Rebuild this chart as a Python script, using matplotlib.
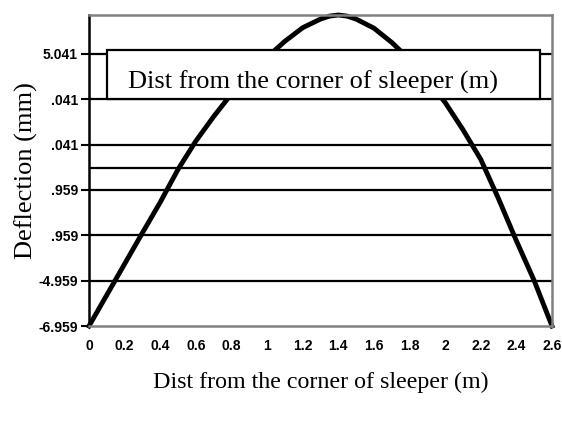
import numpy as np
import matplotlib.pyplot as plt
from matplotlib.patches import Rectangle

# deflection along the sleeper
dist = [0.0, 0.1, 0.2, 0.3, 0.4, 0.5, 0.6, 0.7, 0.8, 0.9, 1.0, 1.1, 1.2, 1.3,
        1.35, 1.4, 1.45, 1.5, 1.6, 1.7, 1.8, 1.9, 2.0, 2.1, 2.2, 2.3, 2.4, 2.5, 2.6]
deflection = [-6.959, -5.59, -4.22, -2.85, -1.50, -0.05, 1.20, 2.28, 3.28, 4.15,
              4.90, 5.60, 6.20, 6.58, 6.71, 6.76, 6.71, 6.58, 6.18, 5.55, 4.80, 3.90,
              2.90, 1.70, 0.39, -1.35, -3.20, -4.96, -6.959]

y_ticks = [-6.959, -4.959, -2.959, -0.959, 1.041, 3.041, 5.041]
y_labels = ['-6.959', '-4.959', '.959', '.959', '.041', '.041', '5.041']
x_ticks = [0, 0.2, 0.4, 0.6, 0.8, 1, 1.2, 1.4, 1.6, 1.8, 2, 2.2, 2.4, 2.6]
x_labels = ['0', '0.2', '0.4', '0.6', '0.8', '1', '1.2', '1.4', '1.6', '1.8',
            '2', '2.2', '2.4', '2.6']
title_text = 'Dist from the corner of sleeper (m)'

fig = plt.figure(figsize=(5.62, 4.21), dpi=100)
ax = fig.add_axes([89 / 562, 95 / 421, 463 / 562, 311 / 421])

# horizontal gridlines incl. the zero line
for y in y_ticks[1:] + [0]:
    ax.axhline(y, color='black', lw=1.6, zorder=1)

ax.plot(dist, deflection, color='black', lw=3.5, zorder=2, clip_on=False)

ax.set_xlim(0, 2.6)
ax.set_ylim(-6.959, 6.76)

ax.set_xticks(x_ticks)
ax.set_xticklabels(x_labels, fontfamily='Liberation Sans', fontweight='bold', fontsize=10)
ax.set_yticks(y_ticks)
ax.set_yticklabels(y_labels, fontfamily='Liberation Sans', fontweight='bold', fontsize=10)
ax.tick_params(axis='x', length=0, pad=9)
ax.tick_params(axis='y', length=6, width=1.5, pad=2, direction='out')

for side in ['top', 'right', 'bottom']:
    ax.spines[side].set_color('#808080')
    ax.spines[side].set_linewidth(1.8)
ax.spines['left'].set_color('black')
ax.spines['left'].set_linewidth(1.8)

# the misplaced title box over the plot
ax.add_patch(Rectangle((0.0389, 0.730), 0.935, 0.1575, transform=ax.transAxes,
                       facecolor='white', edgecolor='black', lw=1.6, zorder=5))
ax.text(0.084, 0.785, title_text, transform=ax.transAxes, ha='left', va='center',
        fontfamily='Liberation Serif', fontsize=19, zorder=6)

ax.set_ylabel('Deflection (mm)', fontfamily='Liberation Serif', fontsize=19, labelpad=0)
fig.text(321 / 562, 1 - 382 / 421, title_text, ha='center', va='center',
         fontfamily='Liberation Serif', fontsize=17.3)

fig.savefig('out.png', dpi=100)
